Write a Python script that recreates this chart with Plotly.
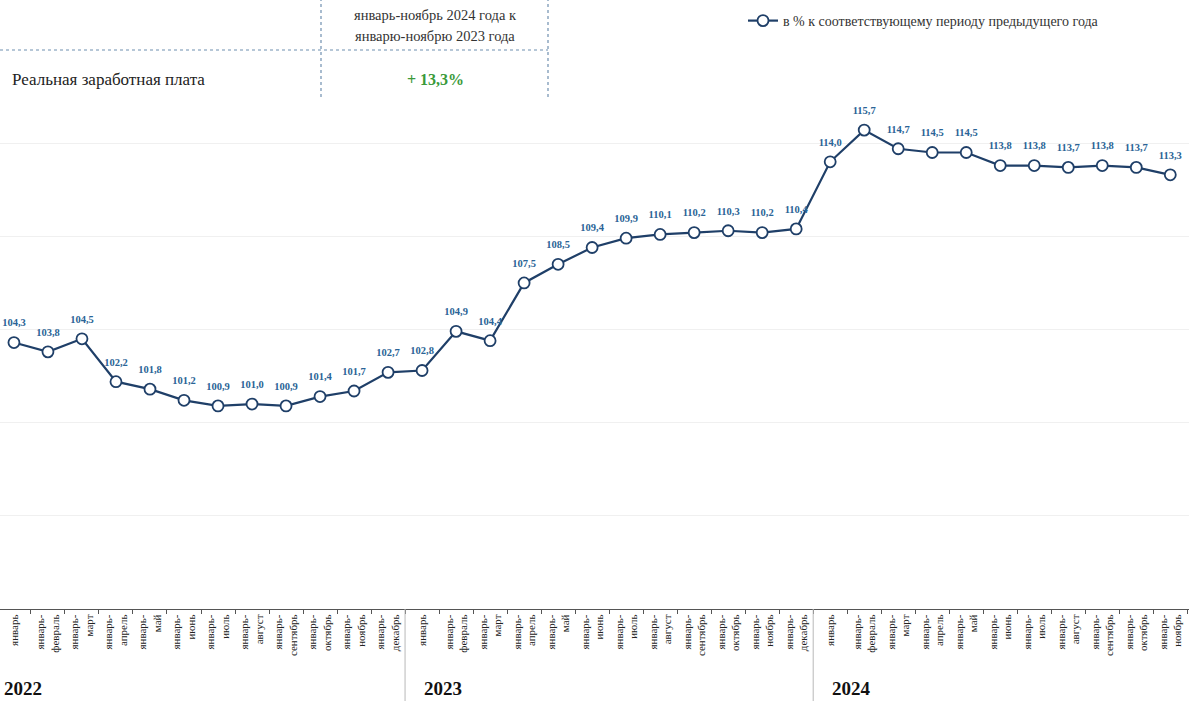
import plotly.graph_objects as go

years = ["2022", "2023", "2024"]
months = ["январь", "январь-<br>февраль", "январь-<br>март", "январь-<br>апрель", "январь-<br>май",
          "январь-<br>июнь", "январь-<br>июль", "январь-<br>август", "январь-<br>сентябрь",
          "январь-<br>октябрь", "январь-<br>ноябрь", "январь-<br>декабрь"]
values_2022 = [104.3, 103.8, 104.5, 102.2, 101.8, 101.2, 100.9, 101.0, 100.9, 101.4, 101.7, 102.7]
values_2023 = [102.8, 104.9, 104.4, 107.5, 108.5, 109.4, 109.9, 110.1, 110.2, 110.3, 110.2, 110.4]
values_2024 = [114.0, 115.7, 114.7, 114.5, 114.5, 113.8, 113.8, 113.7, 113.8, 113.7, 113.3]
series_name = "в % к соответствующему периоду предыдущего года"

series = [values_2022, values_2023, values_2024]
cats, ticktext, vals = [], [], []
for yr, vs in zip(years, series):
    for m, v in zip(months, vs):
        cats.append(f"{yr} {m}")
        ticktext.append(m)
        vals.append(v)
labels = [f"{v:.1f}".replace(".", ",") for v in vals]

SERIF = "Liberation Serif, Times New Roman, serif"
LINE = "#1f3f68"
LABEL = "#2a6496"

fig = go.Figure()
fig.add_trace(go.Scatter(
    x=cats, y=vals, mode="lines+markers", name=series_name,
    line=dict(color=LINE, width=2.2),
    marker=dict(size=11, color="white", line=dict(color=LINE, width=1.8)),
    cliponaxis=False,
))
fig.add_trace(go.Scatter(
    x=cats, y=vals, mode="markers+text", showlegend=False, hoverinfo="skip",
    text=[f"<b>{t}</b>" for t in labels], textposition="top center",
    textfont=dict(family=SERIF, size=10.5, color=LABEL),
    marker=dict(size=20, opacity=0),
    cliponaxis=False,
))

H = 559.0  # plot area height in px
def py(px):
    return (609 - px) / H
W = 1189.0
def pxx(px):
    return px / W

shapes = []
dot = dict(color="#6f8fb0", width=1.2, dash="dot")
shapes.append(dict(type="line", xref="paper", yref="paper", x0=0, x1=pxx(548), y0=py(50), y1=py(50), line=dot))
shapes.append(dict(type="line", xref="paper", yref="paper", x0=pxx(321), x1=pxx(321), y0=py(-2), y1=py(100), line=dot))
shapes.append(dict(type="line", xref="paper", yref="paper", x0=pxx(548), x1=pxx(548), y0=py(-2), y1=py(100), line=dot))
for yi in (1, 2):
    idx = cats.index(f"{years[yi]} {months[0]}")
    shapes.append(dict(type="line", xref="x", yref="paper", x0=idx - 0.5, x1=idx - 0.5,
                       y0=0, y1=py(701), line=dict(color="#b8b8b8", width=1)))

annotations = [
    dict(xref="paper", yref="paper", x=pxx(435), y=py(15), text="январь-ноябрь 2024 года к",
         showarrow=False, xanchor="center", yanchor="middle", font=dict(family=SERIF, size=14.5, color="#333333")),
    dict(xref="paper", yref="paper", x=pxx(435), y=py(36), text="январю-ноябрю 2023 года",
         showarrow=False, xanchor="center", yanchor="middle", font=dict(family=SERIF, size=14.5, color="#333333")),
    dict(xref="paper", yref="paper", x=pxx(10), y=py(79), text="Реальная заработная плата",
         showarrow=False, xanchor="left", yanchor="middle", font=dict(family=SERIF, size=17, color="#222222")),
    dict(xref="paper", yref="paper", x=pxx(435), y=py(79), text="<b>+ 13,3%</b>",
         showarrow=False, xanchor="center", yanchor="middle", font=dict(family=SERIF, size=16, color="#3a9a3a")),
]
for yr in years:
    idx = cats.index(f"{yr} {months[0]}")
    annotations.append(dict(xref="x", yref="paper", x=idx if idx > 0 else -0.36, y=py(688), text=f"<b>{yr}</b>",
                            showarrow=False, xanchor="left", yanchor="middle",
                            font=dict(family=SERIF, size=19, color="#111111")))

fig.update_layout(
    width=1193, height=701,
    margin=dict(l=0, r=4, t=50, b=92),
    paper_bgcolor="white", plot_bgcolor="white",
    showlegend=True,
    legend=dict(x=pxx(743), y=py(21), xanchor="left", yanchor="middle", orientation="h",
                font=dict(family=SERIF, size=14, color="#333333"), bgcolor="rgba(0,0,0,0)"),
    xaxis=dict(type="category", range=[-0.41, len(cats) - 0.45],
               tickvals=cats, ticktext=ticktext, tickangle=-90,
               tickfont=dict(family=SERIF, size=11, color="#222222"),
               ticks="outside", tickson="boundaries", ticklen=4, tickcolor="#555555",
               showline=True, linecolor="#555555", linewidth=1.2, showgrid=False),
    yaxis=dict(range=[90, 120], dtick=5, showticklabels=False, showgrid=True,
               gridcolor="#f0f0f0", gridwidth=1, zeroline=False, showline=False),
    shapes=shapes, annotations=annotations,
)

fig.write_html("out.html", config={"displayModeBar": False},
               post_script="document.body.style.margin='0';")
